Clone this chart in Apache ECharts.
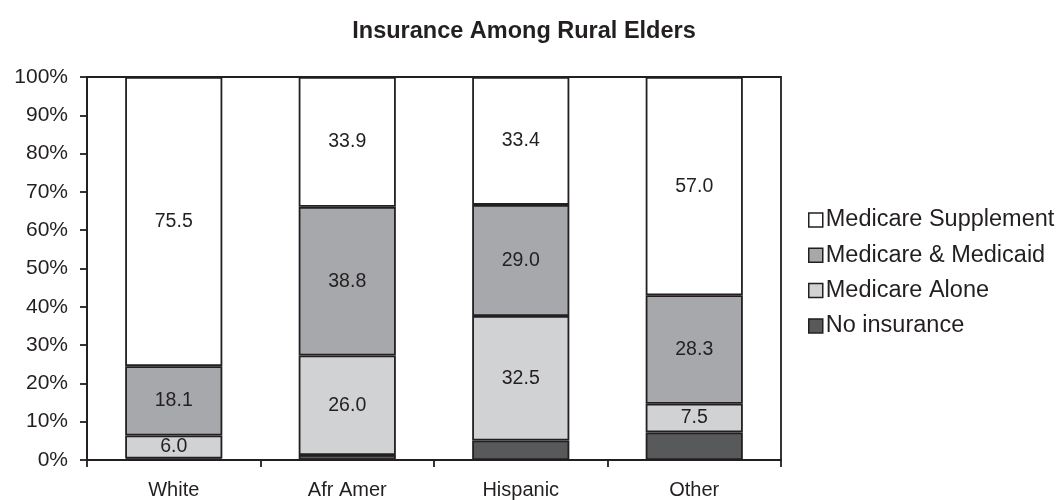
<!DOCTYPE html>
<html><head><meta charset="utf-8">
<script src="https://cdn.jsdelivr.net/npm/echarts@6/dist/echarts.min.js"></script>
<style>html,body{margin:0;padding:0;background:#fff}#c{width:1062px;height:500px}</style>
</head><body><div id="c"></div>
<script>
const categories = ['White', 'Afr Amer', 'Hispanic', 'Other'];
const noInsurance = [0.4, 1.3, 5.1, 7.2];
const medicareAlone = [6.0, 26.0, 32.5, 7.5];
const medicareMedicaid = [18.1, 38.8, 29.0, 28.3];
const medicareSupplement = [75.5, 33.9, 33.4, 57.0];
const yTicks = [0, 10, 20, 30, 40, 50, 60, 70, 80, 90, 100];

const ink = '#231f20';
const font = 'Liberation Sans, Arial, sans-serif';
function mk(name, data, color, showLabel) {
  return {
    name, type: 'bar', stack: 'all', data, barWidth: '56%',
    itemStyle: { color, borderColor: ink, borderWidth: 1.8 },
    label: { show: showLabel, position: 'inside', color: ink, fontFamily: font, fontSize: 19.5,
      formatter: p => Number(p.value).toFixed(1) },
    emphasis: { disabled: true }
  };
}
const chart = echarts.init(document.getElementById('c'), null, { renderer: 'canvas' });
chart.setOption({
  animation: false,
  backgroundColor: '#fff',
  title: { text: 'Insurance Among Rural Elders', left: 519, textAlign: 'center', top: 15,
    textStyle: { fontFamily: font, fontSize: 23.5, fontWeight: 'bold', color: ink } },
  grid: { left: 87, right: 281, top: 77, bottom: 40, show: true, borderColor: ink, borderWidth: 1.8 },
  legend: {
    orient: 'vertical', left: 803, top: 203, itemGap: 11.3, itemWidth: 14, itemHeight: 14,
    icon: 'rect', selectedMode: false,
    itemStyle: { borderColor: ink, borderWidth: 1.5 },
    textStyle: { fontFamily: font, fontSize: 23.5, color: ink, padding: [0, 0, 0, -2] },
    data: ['Medicare Supplement', 'Medicare & Medicaid', 'Medicare Alone', 'No insurance']
  },
  xAxis: {
    type: 'category', data: categories,
    axisLine: { lineStyle: { color: ink, width: 1.8 } },
    axisTick: { show: true, length: 7, lineStyle: { color: ink, width: 1.8 } },
    axisLabel: { color: ink, fontFamily: font, fontSize: 20, margin: 20 }
  },
  yAxis: {
    type: 'value', min: 0, max: 100, interval: 10,
    axisLine: { show: true, lineStyle: { color: ink, width: 1.8 } },
    axisTick: { show: true, length: 7, lineStyle: { color: ink, width: 1.8 } },
    splitLine: { show: false },
    axisLabel: { color: ink, fontFamily: font, fontSize: 21, margin: 19,
      formatter: v => yTicks.includes(v) ? v + '%' : '' }
  },
  series: [
    mk('No insurance', noInsurance, '#58595b', false),
    mk('Medicare Alone', medicareAlone, '#d1d2d4', true),
    mk('Medicare & Medicaid', medicareMedicaid, '#a7a8ab', true),
    mk('Medicare Supplement', medicareSupplement, '#ffffff', true)
  ]
});
</script></body></html>
